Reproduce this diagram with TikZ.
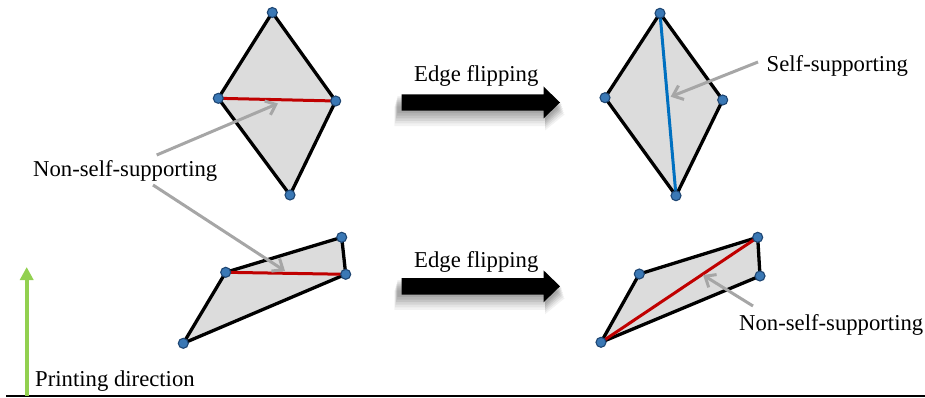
\documentclass[tikz,border=0pt]{standalone}
\usepackage{fontspec}
\setmainfont{Liberation Serif}
\usetikzlibrary{arrows.meta}
\definecolor{polyfill}{RGB}{220,220,220}
\definecolor{dotfill}{RGB}{58,120,181}
\definecolor{dotline}{RGB}{30,70,115}
\definecolor{edgered}{RGB}{192,0,0}
\definecolor{edgeblue}{RGB}{0,112,192}
\definecolor{callgray}{RGB}{166,166,166}
\definecolor{printgreen}{RGB}{146,208,80}
\tikzset{
  poly/.style={draw=black, line width=3.3pt, fill=polyfill, line join=round},
  vdot/.style={circle, fill=dotfill, draw=dotline, line width=1.1pt, minimum size=10pt, inner sep=0pt},
  rededge/.style={draw=edgered, line width=3pt},
  blueedge/.style={draw=edgeblue, line width=3pt},
  callout/.style={draw=callgray, line width=3pt, -{Straight Barb[length=9pt,width=15pt,line width=3pt]}},
  lbl/.style={inner sep=0pt, anchor=base west, font=\fontsize{22.7}{27}\selectfont},
  flipbody/.style={fill=black},
}
\begin{document}
\begin{tikzpicture}[x=1pt,y=-1pt]
\useasboundingbox (0,0) rectangle (925,398);

% ground line
\coordinate (g1) at (6,395.5);
\coordinate (g2) at (925,395.5);
\draw[line width=2pt] (g1) -- (g2);

% printing direction arrow
\coordinate (pd1) at (26.7,395.5);
\coordinate (pd2) at (26.7,267);
\draw[printgreen, line width=4pt, -{Triangle[length=13pt,width=13pt]}] (pd1) -- (pd2);
\node[lbl] (pdl) at (35,386.5) {Printing direction};

% ---------- top-left diamond
\coordinate (a1) at (272.3,12.5);
\coordinate (a2) at (218.3,98.3);
\coordinate (a3) at (290,195);
\coordinate (a4) at (335.7,101);
\path[poly] (a1) -- (a2) -- (a3) -- (a4) -- cycle;
\draw[rededge] (a2) -- (a4);

% ---------- top-right diamond
\coordinate (b1) at (660,13.3);
\coordinate (b2) at (605,97.7);
\coordinate (b3) at (676,195.7);
\coordinate (b4) at (722.7,100);
\path[poly] (b1) -- (b2) -- (b3) -- (b4) -- cycle;
\draw[blueedge] (b1) -- (b3);

% ---------- bottom-left quad
\coordinate (c1) at (341.7,237.3);
\coordinate (c2) at (345.7,274.3);
\coordinate (c3) at (183.3,343.3);
\coordinate (c4) at (225.7,272.3);
\path[poly] (c4) -- (c1) -- (c2) -- (c3) -- cycle;
\draw[rededge] (c4) -- (c2);

% ---------- bottom-right quad
\coordinate (d1) at (757.7,237.3);
\coordinate (d2) at (760,276);
\coordinate (d3) at (601,342.3);
\coordinate (d4) at (639.3,274);
\path[poly] (d4) -- (d1) -- (d2) -- (d3) -- cycle;
\draw[rededge] (d3) -- (d1);

% vertices
\foreach \p in {a1,a2,a3,a4,b1,b2,b3,b4,c1,c2,c3,c4,d1,d2,d3,d4}
  \node[vdot] (v\p) at (\p) {};

% ---------- edge flipping arrows (with soft shadow)
\foreach \yy/\nm in {102.5/top,286.3/bot}{
  \begin{scope}[shift={(0,\yy)}]
    \foreach \k/\op in {12/0.05,10/0.06,8/0.07,6/0.08,4/0.08,2/0.08}{
      \fill[black, opacity=\op] (398-\k*0.3,-8+\k) -- (545,-8+\k) -- (545,-16+\k) -- (561+\k*0.3,0+\k) -- (545,16+\k) -- (545,8+\k+\k*0.3) -- (398-\k*0.3,8+\k+\k*0.3) -- cycle;
    }
    \fill[flipbody] (401.7,-8.2) -- (543.5,-8.2) -- (543.5,-16) -- (560,0) -- (543.5,16) -- (543.5,8.2) -- (401.7,8.2) -- cycle;
  \end{scope}
}
\node[lbl] (ef1) at (414,81.5) {Edge flipping};
\node[lbl] (ef2) at (414,267) {Edge flipping};

% ---------- labels
\node[lbl] (ns1) at (33,176.7) {Non-self-supporting};
\node[lbl] (ss) at (766.5,71.5) {Self-supporting};
\node[lbl] (ns2) at (739,330.5) {Non-self-supporting};

% callout arrows
\coordinate (ns1a) at (156.7,155);
\coordinate (ns1b) at (153,185);
\coordinate (t1) at (278,103.5);
\coordinate (t2) at (285,271);
\coordinate (ssa) at (758,62);
\coordinate (t3) at (670.7,96.7);
\coordinate (ns2a) at (753,306);
\coordinate (t4) at (703,275);
\draw[callout] (ns1a) -- (t1);
\draw[callout] (ns1b) -- (t2);
\draw[callout] (ssa) -- (t3);
\draw[callout] (ns2a) -- (t4);
\end{tikzpicture}
\end{document}
